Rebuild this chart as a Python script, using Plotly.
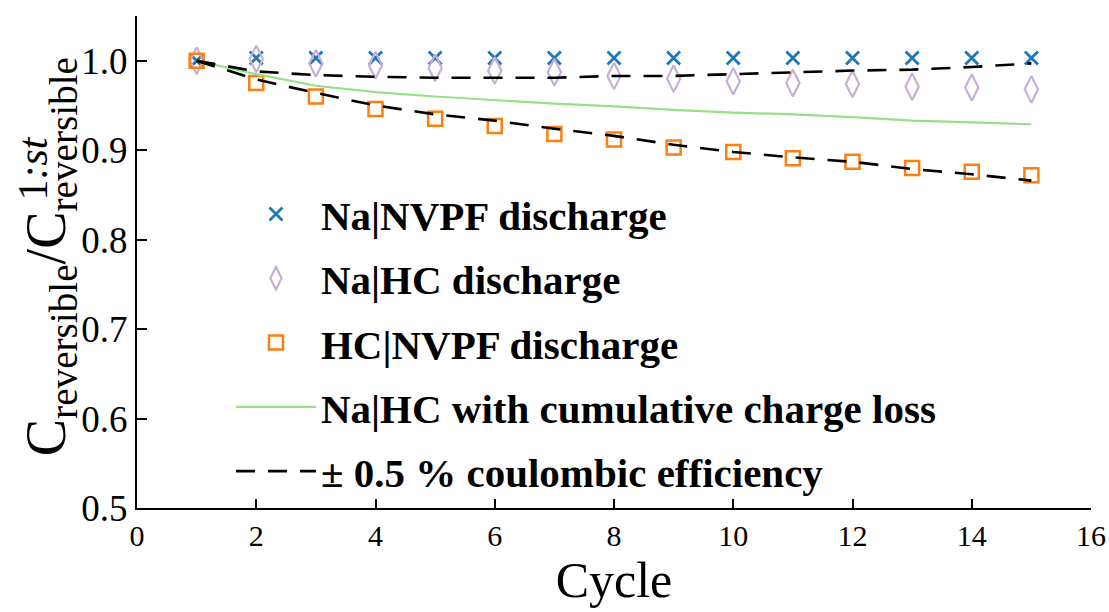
import plotly.graph_objects as go

cycles = list(range(1, 16))
na_nvpf = [1.000, 1.003, 1.003, 1.003, 1.003, 1.003, 1.003, 1.003, 1.003, 1.003, 1.003, 1.003, 1.003, 1.003, 1.003]
na_hc = [1.000, 1.002, 0.997, 0.995, 0.992, 0.989, 0.987, 0.983, 0.980, 0.977, 0.975, 0.974, 0.971, 0.970, 0.968]
hc_nvpf = [1.000, 0.975, 0.960, 0.946, 0.935, 0.927, 0.918, 0.912, 0.903, 0.898, 0.891, 0.887, 0.880, 0.876, 0.872]
na_hc_cum = [1.000, 0.985, 0.972, 0.965, 0.960, 0.956, 0.952, 0.949, 0.945, 0.942, 0.940, 0.937, 0.933, 0.931, 0.929]
ce_upper = [1.000, 0.988, 0.984, 0.982, 0.981, 0.981, 0.981, 0.983, 0.983, 0.985, 0.987, 0.989, 0.990, 0.993, 0.997]
ce_lower = [1.000, 0.979, 0.964, 0.950, 0.940, 0.933, 0.924, 0.916, 0.906, 0.898, 0.892, 0.887, 0.879, 0.873, 0.866]

x_ticks = [0, 2, 4, 6, 8, 10, 12, 14, 16]
x_tick_labels = ["0", "2", "4", "6", "8", "10", "12", "14", "16"]
y_ticks = [0.5, 0.6, 0.7, 0.8, 0.9, 1.0]
y_tick_labels = ["0.5", "0.6", "0.7", "0.8", "0.9", "1.0"]

SERIF = "Liberation Serif"
DASH = "19px,13px"

fig = go.Figure()

fig.add_trace(go.Scatter(
    x=cycles, y=na_nvpf, mode="markers", name="Na|NVPF discharge",
    legendgroup="a", legendrank=1,
    marker=dict(symbol="x-thin", size=13, line=dict(color="#1f77b4", width=2.8), color="#1f77b4")))
fig.add_trace(go.Scatter(
    x=cycles, y=na_hc, mode="markers", name="Na|HC discharge",
    legendgroup="b", legendrank=2,
    marker=dict(symbol="diamond-tall-open", size=19, color="#c5b0d5", line=dict(color="#c5b0d5", width=2.2))))
fig.add_trace(go.Scatter(
    x=cycles, y=hc_nvpf, mode="markers", name="HC|NVPF discharge",
    legendgroup="c", legendrank=3,
    marker=dict(symbol="square-open", size=14, color="#ff7f0e", line=dict(color="#ff7f0e", width=2.5))))
fig.add_trace(go.Scatter(
    x=cycles, y=na_hc_cum, mode="lines", name="Na|HC with cumulative charge loss",
    legendgroup="d", legendrank=4,
    line=dict(color="#98df8a", width=2.2)))
fig.add_trace(go.Scatter(
    x=cycles, y=ce_upper, mode="lines", name="± 0.5 % coulombic efficiency",
    legendgroup="e", legendrank=5,
    line=dict(color="black", width=2.6, dash=DASH)))
fig.add_trace(go.Scatter(
    x=cycles, y=ce_lower, mode="lines", name="± 0.5 % coulombic efficiency",
    legendgroup="e", showlegend=False,
    line=dict(color="black", width=2.6, dash=DASH)))

fig.layout.xaxis.tickfont.family = SERIF
fig.layout.xaxis.tickfont.size = 30
fig.layout.xaxis.tickfont.color = "black"
fig.layout.yaxis.tickfont.family = SERIF
fig.layout.yaxis.tickfont.size = 37
fig.layout.yaxis.tickfont.color = "black"

fig.update_layout(
    xaxis=dict(
        range=[0, 16], tickmode="array", tickvals=x_ticks, ticktext=x_tick_labels, ticklen=9,
        showline=True, linecolor="black", linewidth=2, mirror=False,
        ticks="inside", tickcolor="black", tickwidth=1.5,
        showgrid=False, zeroline=False, automargin=False,
        title=dict(text="Cycle", font=dict(family=SERIF, size=50, color="black"), standoff=10)),
    yaxis=dict(
        range=[0.5, 1.05], tickmode="array", tickvals=y_ticks, ticktext=y_tick_labels, ticklen=10,
        showline=True, linecolor="black", linewidth=2, mirror=False,
        ticks="inside", tickcolor="black", tickwidth=1.5,
        showgrid=False, zeroline=False, automargin=False),
)

fig.add_annotation(
    xref="paper", yref="paper", x=-0.091, y=0.51, xanchor="center", yanchor="middle",
    text="C<sub>reversible</sub>/C<sub>reversible</sub>", textangle=-90, showarrow=False,
    font=dict(family=SERIF, size=56, color="black"))
fig.add_annotation(
    xref="paper", yref="paper", x=-0.110, y=0.69, xanchor="center", yanchor="middle",
    text="1<i>:st</i>", textangle=-90, showarrow=False,
    font=dict(family=SERIF, size=42, color="black"))

fig.update_layout(
    width=1109, height=612,
    margin=dict(l=137, r=18, t=16, b=104, autoexpand=False),
    paper_bgcolor="white", plot_bgcolor="white",
    showlegend=True,
    legend=dict(
        x=0.0985, y=0.665, xanchor="left", yanchor="top",
        bgcolor="rgba(0,0,0,0)", borderwidth=0,
        font=dict(family=SERIF, size=41, color="black", weight="bold"),
        itemwidth=80, tracegroupgap=8, traceorder="grouped",
    ),
)

fig.write_html("out.html")
